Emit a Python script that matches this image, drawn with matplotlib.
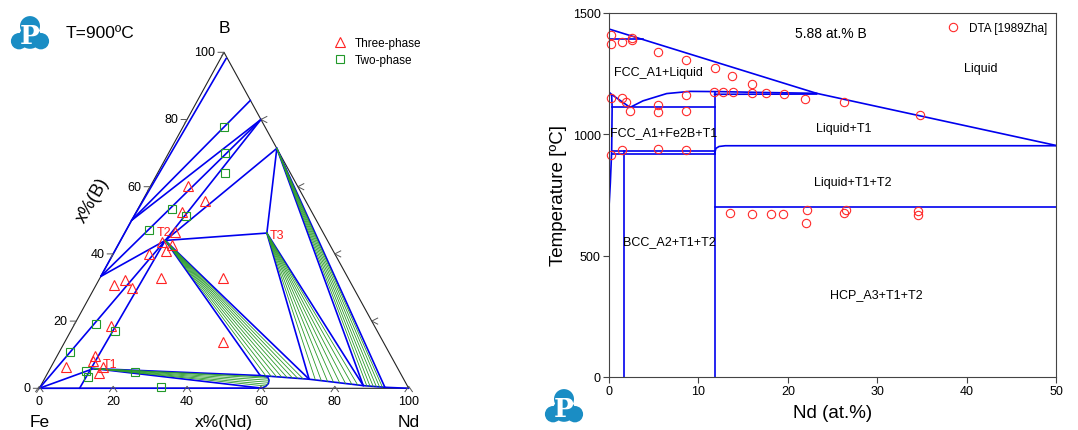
import numpy as np
import matplotlib
matplotlib.use("Agg")
import matplotlib.pyplot as plt
from matplotlib.patches import Circle

plt.rcParams['font.family'] = ['Liberation Sans', 'DejaVu Sans']

# ---------------- ternary section (xNd, xB) in at.% ----------------
# nodes
FE = (0, 0); ND = (100, 0); BB = (0, 100)
B_SIDE = (1.5, 98.2)
FEB = (0, 50); FE2B = (0, 33.3)
NDB6 = (14.3, 85.7); NDB4 = (20, 80); ND2B5 = (28.6, 71.4)
T1 = (11.76, 5.88); T2 = (12.1, 44.0); T3 = (38.5, 46.2)
E1 = (10.9, 0)
L1 = (57.9, 3.8); L2 = (71.7, 2.7); L3 = (87.3, 0.8); L4 = (93.4, 0.3)
LENS_END = (60.2, 0.05)

# phase boundaries (blue)
blue_lines = [
    [B_SIDE, FEB], [FEB, NDB6], [FEB, NDB4], [FE2B, NDB4], [NDB4, T2],
    [FE2B, T2], [FE2B, FEB], [FE, T2], [E1, T2], [FE, T1],
    [T2, ND2B5], [T2, T3], [T3, ND2B5],
    [T2, L1], [T2, L2], [T3, L2], [T3, L3], [ND2B5, L3], [ND2B5, L4],
    [L1, L2, L3, L4, ND],
    [T1, L1, (60.2, 3.3), (61.0, 2.4), (61.3, 1.4), (61.0, 0.6), LENS_END, T1],
    [FE, LENS_END],
]

# tie lines (green)
fan_t2_nd = [59.5, 61.0, 62.5, 64.0, 65.5, 67.0, 68.5, 70.0]
fan_t2_b = [3.67, 3.55, 3.43, 3.31, 3.19, 3.07, 2.95, 2.83]
fan_t3_nd = [73.5, 75.2, 77.0, 78.7, 80.5, 82.2, 84.0, 85.7]
fan_t3_b = [2.48, 2.27, 2.05, 1.85, 1.63, 1.42, 1.20, 0.99]
fan_nd2b5_nd = [88.3, 89.2, 90.1, 91.0, 91.9, 92.7]
fan_nd2b5_b = [0.72, 0.64, 0.57, 0.50, 0.42, 0.36]
fan_t1_nd = [59.3, 60.2, 60.8, 61.1, 61.1, 60.8]
fan_t1_b = [3.4, 3.0, 2.4, 1.8, 1.2, 0.7]

# experimental points
tri_nd = [10.1, 16.9, 12.2, 13.5, 11.4, 14.5, 13.9, 9.8, 16.7, 33.4,
          4.9, 7.0, 10.3, 10.2, 42.9, 4.0, 10.3, 10.4, 13.8, 14.2]
tri_b = [60.1, 55.8, 52.6, 46.4, 43.5, 42.6, 40.8, 40.0, 32.7, 32.7,
         30.7, 32.3, 29.8, 18.5, 13.9, 6.25, 9.5, 8.2, 4.5, 6.25]
sq_nd = [11.2, 15.2, 18.2, 9.3, 14.0, 6.2, 5.9, 11.9, 2.95, 10.1, 11.5, 23.5, 32.8]
sq_b = [77.7, 70.0, 64.0, 53.4, 51.4, 47.1, 19.1, 17.1, 10.7, 5.06, 3.45, 4.76, 0.3]

tick_vals = [0, 20, 40, 60, 80, 100]

# ---------------- isopleth 5.88 at.% B ----------------
liq_x = [0, 23.2, 50]
liq_t = [1434, 1169, 954]
fcc_top_x = [0, 3.8]
fcc_top_t = [1392, 1392]
fcc_low_x = [0, 2.35, 3.8, 6.45, 9.06, 12.4, 18.0, 23.2]
fcc_low_t = [1172, 1111, 1138, 1168, 1177, 1176, 1172, 1169]
fcc_left_x = [0.05, 0.3, 0.35, 0.3, 0.15, 0.0]
fcc_left_t = [1172, 1160, 1111, 933, 800, 700]
t1_liq_x = [11.8, 23.2]
t1_liq_t = [1165, 1166]
h1111_x = [0.35, 11.8]
h1111_t = [1111, 1111]
h933_x = [0.3, 11.8]
h933_t = [933, 933]
h918_x = [0.3, 11.8]
h918_t = [918, 918]
v17_x = [1.7, 1.7]
v17_t = [933, 0]
v118_x = [11.8, 11.8]
v118_t = [1176, 0]
h953_x = [11.8, 11.95, 12.3, 13.0, 50]
h953_t = [920, 942, 950, 953, 953]
h701_x = [11.8, 50]
h701_t = [701, 701]

dta_x = [0.19, 0.19, 1.42, 2.61, 2.61, 5.51, 8.61, 11.89, 13.75, 16.02,
         0.19, 1.42, 1.86, 2.35, 5.51, 5.51, 8.57, 8.57, 11.77, 12.78,
         13.86, 16.02, 17.51, 19.56, 21.94, 26.30, 34.76, 0.22, 1.42, 5.51,
         8.57, 13.56, 16.02, 18.07, 19.49, 22.09, 21.98, 26.30, 26.53, 34.58, 34.58]
dta_t = [1409, 1372, 1382, 1396, 1389, 1338, 1307, 1274, 1240, 1208,
         1150, 1150, 1135, 1098, 1121, 1091, 1161, 1097, 1176, 1176,
         1176, 1169, 1169, 1165, 1145, 1134, 1079, 913, 935, 939,
         935, 675, 671, 671, 671, 690, 633, 675, 690, 685, 666]

region_labels = ["FCC_A1+Liquid", "FCC_A1+Fe2B+T1", "Liquid", "Liquid+T1",
                 "Liquid+T1+T2", "BCC_A2+T1+T2", "HCP_A3+T1+T2"]
region_x = [5.5, 6.1, 41.6, 26.2, 27.3, 6.7, 29.9]
region_t = [1255, 1011, 1274, 1027, 803, 562, 342]


def tern(nd, b):
    nd = np.asarray(nd, dtype=float)
    b = np.asarray(b, dtype=float)
    return nd + b / 2.0, b


def draw_logo(fig, rect):
    lax = fig.add_axes(rect)
    lax.set_xlim(-1.1, 1.1)
    lax.set_ylim(-1.05, 1.05)
    lax.set_aspect('equal')
    lax.axis('off')
    col = '#1a8dc4'
    for (cx, cy, r) in [(0, 0.38, 0.55), (-0.6, -0.45, 0.45), (0.6, -0.45, 0.45),
                        (0, -0.25, 0.62)]:
        lax.add_patch(Circle((cx, cy), r, color=col, lw=0))
    lax.text(0.0, -0.12, "P", color='white', fontsize=19, fontweight='bold',
             family='DejaVu Serif', ha='center', va='center')


fig = plt.figure(figsize=(10.78, 4.31), dpi=100)

# ---- ternary ----
ax1 = fig.add_axes([39.3 / 1078, 1 - 389.3 / 431, 369.4 / 1078, 336 / 431])
ax1.set_xlim(0, 100)
ax1.set_ylim(0, 100)
ax1.axis('off')

ex, ey = tern([0, 100, 0, 0], [0, 0, 100, 0])
ax1.plot(ex, ey, color='#222222', lw=0.8, clip_on=False)

for seg in blue_lines:
    nd = [p[0] for p in seg]
    b = [p[1] for p in seg]
    x, y = tern(nd, b)
    ax1.plot(x, y, color='#0000ee', lw=1.2, clip_on=False, solid_capstyle='round')

for src, fnd, fb in [(T2, fan_t2_nd, fan_t2_b), (T3, fan_t3_nd, fan_t3_b),
                     (ND2B5, fan_nd2b5_nd, fan_nd2b5_b), (T1, fan_t1_nd, fan_t1_b)]:
    for a, c in zip(fnd, fb):
        x, y = tern([src[0], a], [src[1], c])
        ax1.plot(x, y, color='#2a9a2a', lw=0.6, clip_on=False)

tx, ty = tern(tri_nd, tri_b)
ax1.plot(tx, ty, ls='none', marker='^', ms=6.5, mfc='none', mec='#ff2222', mew=0.8,
         label='Three-phase', clip_on=False)
sx, sy = tern(sq_nd, sq_b)
ax1.plot(sx, sy, ls='none', marker='s', ms=6, mfc='none', mec='#22992a', mew=0.8,
         label='Two-phase', clip_on=False)

# ticks
tk = '#555555'
for v in tick_vals:
    # bottom edge
    x, y = tern(v, 0)
    ax1.plot([x - 1.0, x, x + 1.0], [y - 1.0, y + 0.6, y - 1.0], color=tk, lw=0.7, clip_on=False)
    ax1.text(x, y - 3.8, str(v), fontsize=9, ha='center', va='center')
    # left edge
    x, y = tern(0, v)
    ax1.plot([x - 1.6, x, x - 0.7], [y, y, y - 1.2], color=tk, lw=0.7, clip_on=False)
    ax1.text(x - 2.4, y, str(v), fontsize=9, ha='right', va='center')
    # right edge
    x, y = tern(100 - v, v)
    if 0 < v < 100:
        ax1.plot([x + 1.6, x, x + 1.6], [y + 0.9, y, y - 0.9], color=tk, lw=0.7, clip_on=False)

ax1.text(50, 107.5, "B", fontsize=12.5, ha='center', va='center')
ax1.text(0, -7.6, "Fe", fontsize=12.5, ha='center', va='top')
ax1.text(100, -7.6, "Nd", fontsize=12.5, ha='center', va='top')
ax1.text(50, -7.6, "x%(Nd)", fontsize=12.5, ha='center', va='top')
ax1.text(14.5, 56.3, "x%(B)", fontsize=13, ha='center', va='center', rotation=60)
ax1.text(7.0, 106.0, "T=900ºC", fontsize=12.5, ha='left', va='center')

label_off = {"T1": (2.5, 1.5, 'left'), "T2": (-0.4, 2.4, 'center'), "T3": (0.85, -0.5, 'left')}
for lab, p in [("T1", T1), ("T2", T2), ("T3", T3)]:
    x, y = tern(p[0], p[1])
    dx, dy, ha = label_off[lab]
    ax1.text(x + dx, y + dy, lab, color='#ff1a1a', fontsize=9, ha=ha, va='center')

ax1.legend(loc='upper left', bbox_to_anchor=(328 / 1078, 1 - 32 / 431),
           bbox_transform=fig.transFigure, frameon=False, fontsize=8.5,
           handlelength=1.0, handletextpad=0.8, labelspacing=0.45, borderpad=0)

# ---- isopleth ----
ax2 = fig.add_axes([609 / 1078, 1 - 378 / 431, 447.3 / 1078, 364 / 431])
ax2.set_xlim(0, 50)
ax2.set_ylim(0, 1500)
bl = dict(color='#0000ee', lw=1.2)
ax2.plot(liq_x, liq_t, **bl)
ax2.plot(fcc_top_x, fcc_top_t, **bl)
ax2.plot(fcc_low_x, fcc_low_t, **bl)
ax2.plot(fcc_left_x, fcc_left_t, **bl)
ax2.plot(t1_liq_x, t1_liq_t, **bl)
ax2.plot(h1111_x, h1111_t, **bl)
ax2.plot(h933_x, h933_t, **bl)
ax2.plot(h918_x, h918_t, **bl)
ax2.plot(v17_x, v17_t, **bl)
ax2.plot(v118_x, v118_t, **bl)
ax2.plot(h953_x, h953_t, **bl)
ax2.plot(h701_x, h701_t, **bl)

ax2.plot(dta_x, dta_t, ls='none', marker='o', ms=6, mfc='none', mec='#ff2a2a', mew=0.8,
         label='DTA [1989Zha]', clip_on=False)

for lab, x, t in zip(region_labels, region_x, region_t):
    ax2.text(x, t, lab, fontsize=9, ha='center', va='center')
ax2.text(24.8, 1419, "5.88 at.% B", fontsize=10, ha='center', va='center')

ax2.set_xticks([0, 10, 20, 30, 40, 50])
ax2.set_yticks([0, 500, 1000, 1500])
ax2.tick_params(direction='out', length=4, width=0.8, labelsize=9, pad=2, color='#444444')
for s in ax2.spines.values():
    s.set_color('#444444')
    s.set_linewidth(0.8)
ax2.set_xlabel("Nd (at.%)", fontsize=13.5, labelpad=5)
ax2.set_ylabel("Temperature [ºC]", fontsize=13.5, labelpad=4)
ax2.legend(loc='upper right', frameon=False, fontsize=8.5, handlelength=1.0,
           handletextpad=0.8, borderaxespad=0.4)

draw_logo(fig, [10 / 1078, 1 - 54 / 431, 40 / 1078, 40 / 431])
draw_logo(fig, [544 / 1078, 1 - 427 / 431, 40 / 1078, 40 / 431])

fig.savefig("out.png", dpi=100)
